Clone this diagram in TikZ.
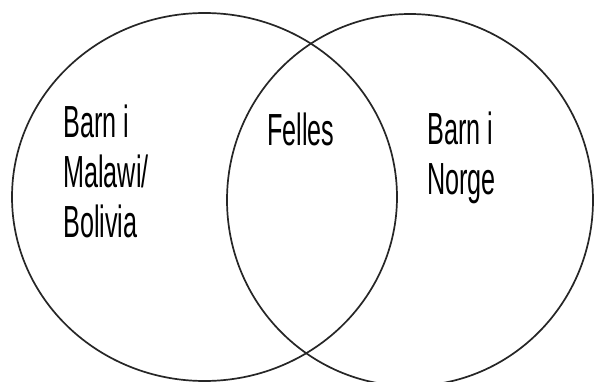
\documentclass[tikz,border=0pt]{standalone}
\usepackage{fontspec}
\newfontfamily\condfont[FakeStretch=0.56]{Liberation Sans}
\begin{document}
\begin{tikzpicture}[x=1pt,y=-1pt,
  setring/.style={draw=black!85, line width=1.7pt},
  lbl/.style={font=\condfont\fontsize{45}{50}\selectfont, align=left, inner sep=0pt, anchor=base west}]
\useasboundingbox (0,0) rectangle (594,382);
\clip (0,0) rectangle (594,382);
\fill[white] (0,0) rectangle (594,382);
\draw[setring] (204.5,197) ellipse [x radius=192.5, y radius=184];
\draw[setring] (410,200) ellipse [x radius=183, y radius=186];
\node[lbl] (left) at (63,237) {Barn i\\Malawi/\\Bolivia};
\node[lbl] (mid) at (267,146) {Felles};
\node[lbl] (right) at (427,194) {Barn i\\Norge};
\end{tikzpicture}
\end{document}
